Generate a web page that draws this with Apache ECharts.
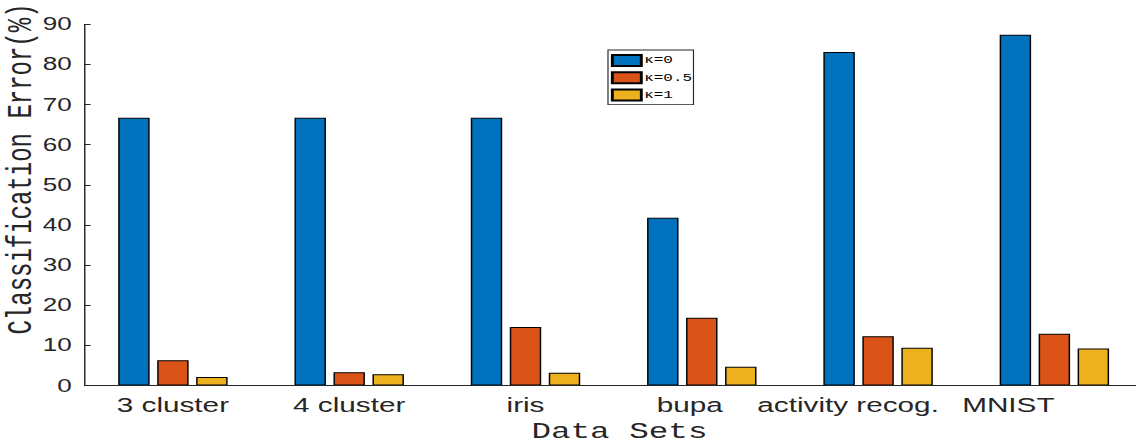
<!DOCTYPE html>
<html>
<head>
<meta charset="utf-8">
<script src="https://cdn.jsdelivr.net/npm/echarts@6/dist/echarts.min.js"></script>
<style>
html,body{margin:0;padding:0;overflow:hidden;background:#fff;width:1136px;height:443px;}
#c{width:784px;height:443px;transform:scaleX(1.44898);transform-origin:0 0;}
</style>
</head>
<body>
<div id="c"></div>
<script>
var categories = ['3 cluster', '4 cluster', 'iris', 'bupa', 'activity recog.', 'MNIST'];
var seriesNames = ['\u03ba=0', '\u03ba=0.5', '\u03ba=1'];
var kappa0 = [66.7, 66.7, 66.7, 41.8, 83.1, 87.4];
var kappa05 = [6.3, 3.3, 14.6, 16.9, 12.3, 12.9];
var kappa1 = [2.1, 2.8, 3.2, 4.7, 9.4, 9.2];
var yTicks = [0, 10, 20, 30, 40, 50, 60, 70, 80, 90];

var AX = '#262626';
var colors = ['#0072BD', '#D95319', '#EDB120'];
var chart = echarts.init(document.getElementById('c'), null, {renderer: 'svg', width: 784, height: 443});

function bar(name, data, color) {
  return {
    name: name, type: 'bar', data: data, xAxisIndex: 0, yAxisIndex: 0,
    barWidth: 21.7, barGap: '24%',
    itemStyle: {color: color, borderColor: '#000', borderWidth: 1},
    emphasis: {disabled: true}
  };
}

// label styles: the reference's right-hand labels sit left of their group centres
var labelFont = {fontFamily: 'Liberation Sans', fontSize: 20.5, color: AX};
var rich = {
  l0: Object.assign({}, labelFont),
  l1: Object.assign({}, labelFont),
  l2: Object.assign({}, labelFont),
  l3: Object.assign({padding: [0, 16.6, 0, 0]}, labelFont),
  l4: Object.assign({padding: [0, 41.4, 0, 0]}, labelFont),
  l5: Object.assign({padding: [0, 63.5, 0, 0]}, labelFont)
};

chart.setOption({
  animation: false,
  grid: {left: 58.5, top: 24.3, width: 730, height: 361.2, containLabel: false, outerBoundsMode: 'none'},
  legend: {
    orient: 'vertical', left: 419.6, top: 50,
    itemWidth: 20, itemHeight: 11, itemGap: 4.3,
    padding: [4, 1, 3, 2],
    borderColor: AX, borderWidth: 0.8, backgroundColor: '#fff',
    textStyle: {fontFamily: 'Liberation Mono', fontSize: 11, color: '#000', padding: [0, 0, 0, -3]},
    icon: 'rect',
    data: seriesNames
  },
  xAxis: [{
    type: 'category', data: categories, position: 'bottom', z: 5,
    name: 'Data Sets', nameLocation: 'middle', nameGap: 35,
    nameTextStyle: {fontFamily: 'Liberation Mono', fontSize: 22.5, color: AX, padding: [0, 0, 0, 8]},
    axisLine: {lineStyle: {color: AX, width: 1}},
    axisTick: {inside: true, alignWithLabel: true, length: 7, lineStyle: {color: AX}},
    axisLabel: {
      fontFamily: 'Liberation Sans', fontSize: 20.5, color: AX, margin: 9, interval: 0,
      formatter: function (v, i) { return '{l' + i + '|' + v + '}'; },
      rich: rich
    }
  }, {
    type: 'category', data: categories, position: 'top', z: 5,
    axisLine: {lineStyle: {color: AX, width: 1}},
    axisTick: {inside: true, alignWithLabel: true, length: 7, lineStyle: {color: AX}},
    axisLabel: {show: false}
  }],
  yAxis: [{
    type: 'value', min: 0, max: 90, interval: 10, position: 'left', z: 5,
    axisLine: {show: true, lineStyle: {color: AX, width: 1}},
    axisTick: {show: true, inside: true, length: 4, lineStyle: {color: AX}},
    splitLine: {show: false},
    axisLabel: {fontFamily: 'Liberation Sans', fontSize: 18, color: AX, margin: 9,
      formatter: function (v) { return yTicks.indexOf(v) >= 0 ? String(v) : ''; }}
  }, {
    type: 'value', min: 0, max: 90, interval: 10, position: 'right', z: 5,
    axisLine: {show: true, lineStyle: {color: AX, width: 1}},
    axisTick: {show: true, inside: true, length: 4, lineStyle: {color: AX}},
    splitLine: {show: false},
    axisLabel: {show: false}
  }],
  graphic: [{
    type: 'text', x: 15.2, y: 169, rotation: Math.PI / 2,
    style: {text: 'Classification Error(%)', font: '24px "Liberation Mono"', fill: AX,
      textAlign: 'center', textVerticalAlign: 'middle', align: 'center', verticalAlign: 'middle'}
  }],
  series: [
    bar(seriesNames[0], kappa0, colors[0]),
    bar(seriesNames[1], kappa05, colors[1]),
    bar(seriesNames[2], kappa1, colors[2])
  ]
});
</script>
</body>
</html>
